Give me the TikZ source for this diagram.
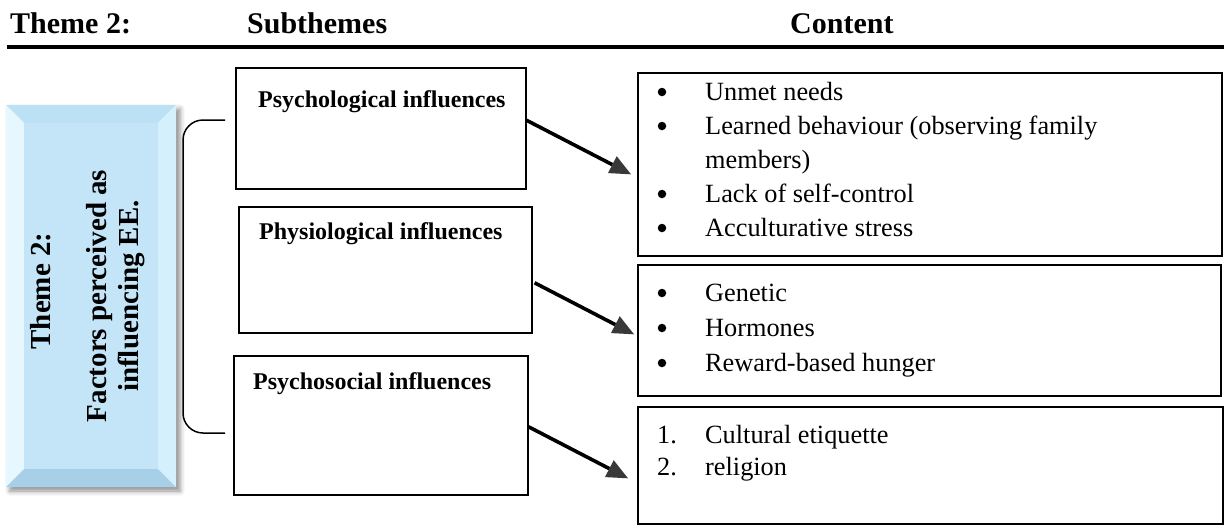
\documentclass[tikz,border=0pt]{standalone}
\usepackage{fontspec}
\setmainfont{Liberation Serif}
\usetikzlibrary{arrows.meta,shadows.blur,calc}
\definecolor{bevtop}{HTML}{BCE1F4}
\definecolor{bevleft}{HTML}{E6F8FE}
\definecolor{bevright}{HTML}{D3F0FC}
\definecolor{bevbot}{HTML}{A7CFE7}
\definecolor{bevface}{HTML}{C4E5F7}
\begin{document}
\begin{tikzpicture}[x=1pt,y=-1pt,
  hdr/.style={anchor=base west,inner sep=0pt,font=\fontsize{30}{36}\selectfont\bfseries},
  box/.style={draw,line width=1.6pt,anchor=north west,inner sep=0pt},
  subtitle/.style={anchor=base west,inner sep=0pt,font=\fontsize{24}{28}\selectfont\bfseries},
  item/.style={anchor=base west,inner sep=0pt,font=\fontsize{26.3}{32}\selectfont},
  bul/.style={circle,fill,inner sep=0pt,minimum size=8.5pt},
  arr/.style={line width=3.6pt,-{Triangle[length=21pt,width=19pt,line width=0pt]}},
  vtext/.style={rotate=90,inner sep=0pt,align=center,font=\fontsize{29}{32}\selectfont\bfseries}
]
\useasboundingbox (0,0) rectangle (1224,528);

% column headings and rule
\node[hdr] (h1) at (10,33) {Theme 2:};
\node[hdr] (h2) at (247,33) {Subthemes};
\node[hdr] (h3) at (790,33) {Content};
\fill (7,45) rectangle (1224,49);

% bevelled theme panel
\fill[white,blur shadow={shadow xshift=4pt,shadow yshift=-4pt,shadow blur radius=5pt,shadow opacity=45}]
  (6,105) rectangle (176,487);
\fill[bevtop]   (6,105) -- (176,105) -- (158,123) -- (24,123) -- cycle;
\fill[bevleft]  (6,105) -- (24,123) -- (24,469) -- (6,487) -- cycle;
\fill[bevright] (176,105) -- (176,487) -- (158,469) -- (158,123) -- cycle;
\fill[bevbot]   (6,487) -- (24,469) -- (158,469) -- (176,487) -- cycle;
\fill[bevface]  (24,123) rectangle (158,469);
\node[vtext] (tt) at (41,291) {Theme 2:};
\node[vtext] (tf) at (116,296) {Factors perceived as\\influencing EE.};

% bracket grouping the subthemes
\draw[line width=1.5pt,rounded corners=20pt] (225,120) -- (183,120) -- (183,433) -- (225,433);

% subtheme boxes
\node[box,minimum width=290pt,minimum height=121pt] (s1) at (235,67) {};
\node[box,minimum width=293pt,minimum height=126pt] (s2) at (238,206) {};
\node[box,minimum width=294pt,minimum height=139pt] (s3) at (233,355) {};
\node[subtitle] (t1) at (258,107) {Psychological influences};
\node[subtitle] (t2) at (259,239) {Physiological influences};
\node[subtitle] (t3) at (253,389) {Psychosocial influences};

% content boxes
\node[box,minimum width=584pt,minimum height=183pt] (cA) at (637,72) {};
\node[box,minimum width=583pt,minimum height=131pt] (cB) at (637,264) {};
\node[box,minimum width=585pt,minimum height=117pt] (cC) at (637,406) {};

\node[bul] (a1b) at (662,92) {};
\node[item] (a1) at (705,100) {Unmet needs};
\node[bul] (a2b) at (662,126) {};
\node[item] (a2) at (705,134) {Learned behaviour (observing family};
\node[item] (a2c) at (705,168) {members)};
\node[bul] (a3b) at (662,194) {};
\node[item] (a3) at (705,202) {Lack of self-control};
\node[bul] (a4b) at (662,228) {};
\node[item] (a4) at (705,236) {Acculturative stress};

\node[bul] (b1b) at (662,293) {};
\node[item] (b1) at (705,301) {Genetic};
\node[bul] (b2b) at (662,328) {};
\node[item] (b2) at (705,336) {Hormones};
\node[bul] (b3b) at (662,363) {};
\node[item] (b3) at (705,371) {Reward-based hunger};

\node[item] (c1n) at (657,443) {1.};
\node[item] (c1) at (705,443) {Cultural etiquette};
\node[item] (c2n) at (657,475) {2.};
\node[item] (c2) at (705,475) {religion};

% arrows from subthemes to their content
\draw[arr] ([yshift=8pt]s1.east) -- ([xshift=-6pt,yshift=-10pt]cA.west);
\draw[arr] ([xshift=2pt,yshift=-13pt]s2.east) -- ([xshift=-3pt,yshift=-4pt]cB.west);
\draw[arr] ([yshift=-1.5pt]s3.east) -- ([xshift=-9pt,yshift=-13pt]cC.west);
\end{tikzpicture}
\end{document}
